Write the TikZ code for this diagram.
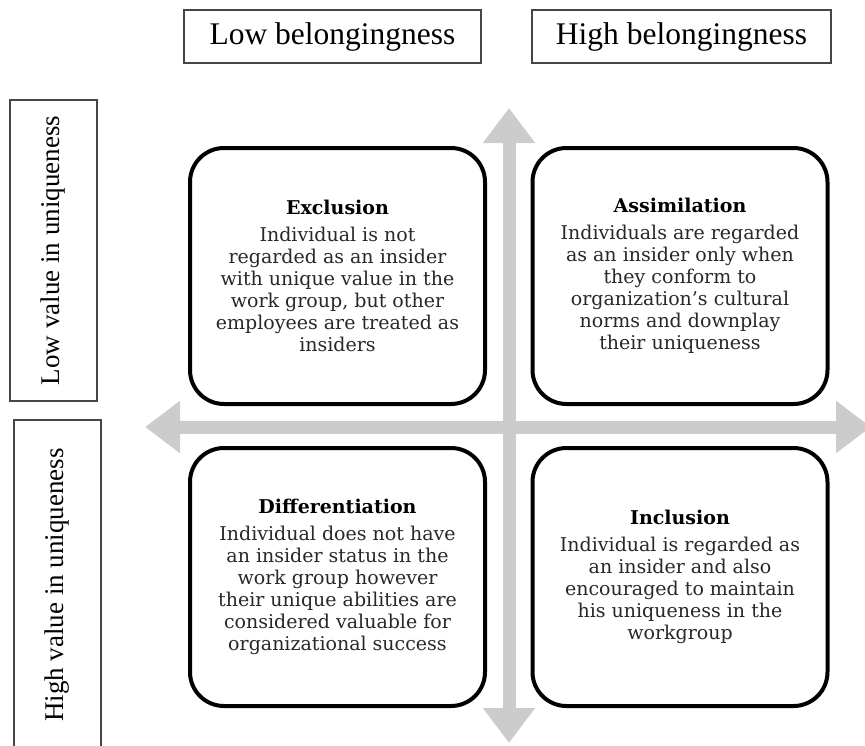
\documentclass[tikz,border=0pt]{standalone}
\usepackage{fontspec}
\setmainfont{Liberation Serif}
\newfontfamily\quadfont{DejaVu Serif}
\usepackage{tikz}
\usetikzlibrary{
  arrows.meta,
  positioning
}
\definecolor{axisgray}{RGB}{204, 204, 204}
\definecolor{framegray}{RGB}{70, 70, 70}
\definecolor{bodyink}{RGB}{40, 40, 40}
\tikzset{
  headbox/.style={draw=framegray, line width=1.5pt, minimum height=53pt, inner sep=0pt, font=\fontsize{31.5}{36}\selectfont},
  sidebox/.style={draw=framegray, line width=1.5pt, rotate=90, minimum height=87pt, inner sep=0pt, font=\fontsize{27}{32}\selectfont},
  quadbox/.style={draw=black, line width=4pt, rounded corners=34pt, fill=white, minimum width=295pt, minimum height=257pt, inner sep=0pt, align=center, text=bodyink, font=\quadfont\fontsize{19}{22}\selectfont},
  axisarrow/.style={axisgray, line width=13pt, {Triangle[width=50pt, length=35pt]}-{Triangle[width=50pt, length=35pt]}}
}
\newcommand{\quadtitle}[1]{\textcolor{black}{\textbf{#1}}\\[5pt]}

\begin{document}
\begin{tikzpicture}[x=1pt, y=-1pt]
  \useasboundingbox (0,0) rectangle (865,745);
  % axes
  \coordinate (west) at (145,427);
  \coordinate (east) at (871,427);
  \coordinate (north) at (509,108);
  \coordinate (south) at (509,743);
  \draw[axisarrow] (west) -- (east);
  \draw[axisarrow] (north) -- (south);
  % column and row headers
  \node[headbox, minimum width=297pt] (lowbel) at (332.5,36.5) {Low belongingness};
  \node[headbox, minimum width=299pt] (highbel) at (681.5,36.5) {High belongingness};
  \node[sidebox, minimum width=301pt] (lowuniq) at (53.5,250.5) {Low value in uniqueness};
  \node[sidebox, minimum width=330pt] (highuniq) at (57.5,585) {High value in uniqueness};
  % quadrants
  \node[quadbox, minimum height=256pt] (exclusion) at (337.5,276) {\quadtitle{Exclusion}
    Individual is not\\ regarded as an insider\\ with unique value in the\\ work group, but other\\ employees are treated as\\ insiders};
  \node[quadbox, minimum height=256pt] (assimilation) at (680,276) {\quadtitle{Assimilation}
    Individuals are regarded\\ as an insider only when\\ they conform to\\ organization’s cultural\\ norms and downplay\\ their uniqueness};
  \node[quadbox, minimum height=258pt] (differentiation) at (337.5,577) {\quadtitle{Differentiation}
    Individual does not have\\ an insider status in the\\ work group however\\ their unique abilities are\\ considered valuable for\\ organizational success};
  \node[quadbox, minimum height=258pt] (inclusion) at (680,577) {\quadtitle{Inclusion}
    Individual is regarded as\\ an insider and also\\ encouraged to maintain\\ his uniqueness in the\\ workgroup};
\end{tikzpicture}
\end{document}
